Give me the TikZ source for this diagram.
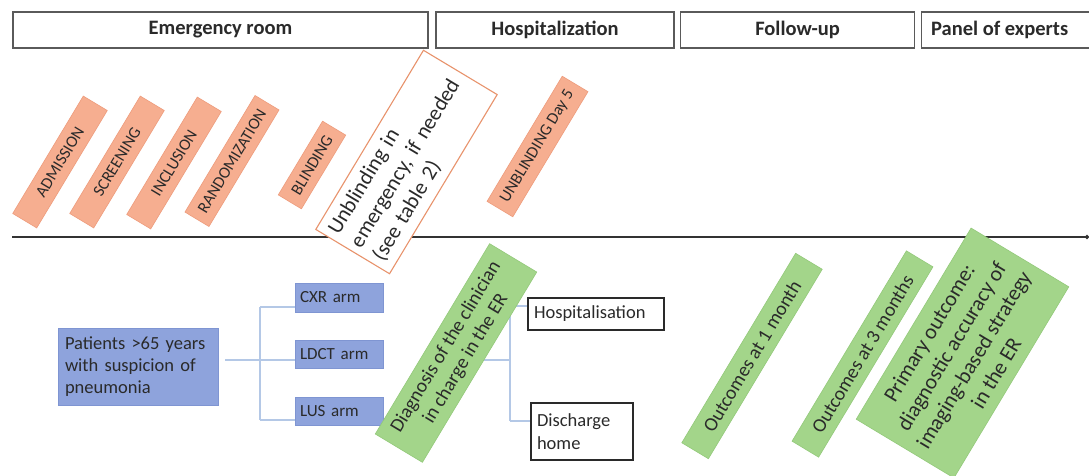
\documentclass[tikz,border=0pt]{standalone}
\usepackage{fontspec}
\setmainfont{Carlito}
\usetikzlibrary{arrows.meta}
\definecolor{txt}{HTML}{2A2A2A}
\definecolor{hdrline}{HTML}{5A5A5A}
\definecolor{orfill}{HTML}{F6AE90}
\definecolor{orline}{HTML}{EE9C7C}
\definecolor{orbord}{HTML}{E8936C}
\definecolor{blfill}{HTML}{8EA3DC}
\definecolor{blline}{HTML}{7F95D2}
\definecolor{grfill}{HTML}{A3D58A}
\definecolor{grline}{HTML}{93C97A}
\definecolor{conn}{HTML}{B4C8E6}
\tikzset{
  hdr/.style={draw=hdrline, line width=1.4pt, fill=white, minimum height=36pt,
    inner sep=0pt, text=txt, font=\fontsize{20.5}{24}\selectfont\bfseries},
  hdrtext/.style={inner sep=0pt, text=txt, font=\fontsize{20.5}{24}\selectfont\bfseries},
  obox/.style={draw=orline, line width=0.6pt, fill=orfill, rotate=59, inner sep=0pt,
    text=txt, font=\fontsize{16.5}{19}\selectfont, minimum height=28pt},
  ubox/.style={draw=orbord, line width=1.1pt, fill=white, rotate=59, inner sep=0pt,
    text=txt, font=\fontsize{21.5}{26}\selectfont, align=left},
  gbox/.style={draw=grline, line width=0.6pt, fill=grfill, rotate=59, inner sep=0pt,
    text=txt, align=center},
  bbox/.style={draw=blline, line width=0.6pt, fill=blfill, inner sep=0pt,
    text=txt, font=\fontsize{17}{21}\selectfont},
  wbox/.style={draw=txt, line width=1.1pt, fill=white, inner sep=0pt,
    text=txt, font=\fontsize{18.5}{22.5}\selectfont},
  cline/.style={draw=conn, line width=1.1pt},
  tline/.style={draw=black!80, line width=1.6pt, -{Circle[length=4pt]}}
}
\begin{document}
\begin{tikzpicture}[x=1pt, y=-1pt]
\useasboundingbox (0,0) rectangle (1089,475);
\fill[white] (0,0) rectangle (1089,475);
% header
\node[hdr, minimum width=415pt] (er) at (220.5,30) {Emergency room};
\node[hdr, minimum width=238pt] (hosp) at (555,30) {Hospitalization};
\node[hdr, minimum width=234pt] (fu) at (797.5,30) {Follow-up};
\begin{scope}
\clip (0,0) rectangle (1089,475);
\node[hdr, minimum width=190pt, anchor=west] (panel) at (921,30) {};
\end{scope}
\node[hdrtext, anchor=west] (paneltxt) at (931,30) {Panel of experts};
% timeline
\coordinate (tl0) at (12,237);
\coordinate (tl1) at (1089,237);
\draw[tline] (tl0) -- (tl1);
% orange steps
\node[obox, minimum width=137pt] (adm) at (60,162) {ADMISSION};
\node[obox, minimum width=137pt] (scr) at (117,162) {SCREENING};
\node[obox, minimum width=137pt] (inc) at (174,163) {INCLUSION};
\node[obox, minimum width=136pt] (rand) at (232,161) {RANDOMIZATION};
\node[obox, minimum width=86pt, minimum height=27pt] (blind) at (312,165) {BLINDING};
\node[ubox, minimum width=209pt, minimum height=86pt, text width=196pt] (unbl) at (406.5,162)
  {Unblinding in\\emergency, if needed\\(see table 2)};
\node[obox, minimum width=146pt, minimum height=30pt] (unb5) at (537.5,146.5) {UNBLINDING Day 5};
% blue
\node[bbox, minimum width=160pt, minimum height=77pt, text width=146pt, align=left,
  font=\fontsize{18.5}{22.3}\selectfont] (pat) at (138,366.5)
  {Patients >65 years\\with suspicion of\\pneumonia};
\node[bbox, minimum width=88pt, minimum height=29pt, text width=78pt, align=left] (cxr) at (339,297.5) {CXR arm};
\node[bbox, minimum width=88pt, minimum height=28pt, text width=78pt, align=left] (ldct) at (339,354) {LDCT arm};
\node[bbox, minimum width=88pt, minimum height=28pt, text width=78pt, align=left] (lus) at (339,411) {LUS arm};
% connectors (arms)
\coordinate (pa) at (225,360);
\coordinate (ja) at (260,360);
\coordinate (jc) at (260,307);
\coordinate (jl) at (260,420);
\draw[cline] (pa) -- (ja);
\draw[cline] (jc) -- (jl);
\draw[cline] (jc) -- (cxr.west |- jc);
\draw[cline] (ja) -- (ldct.west |- ja);
\draw[cline] (jl) -- (lus.west |- jl);
% outcome boxes
\node[wbox, minimum width=136pt, minimum height=32pt, text width=124pt, align=left] (hospit) at (596,314) {Hospitalisation};
\node[wbox, minimum width=102pt, minimum height=57pt, text width=90pt, align=left] (dis) at (582,431.5) {Discharge\\home};
\coordinate (dd) at (477,360);
\coordinate (dj) at (510,360);
\coordinate (dh) at (510,306);
\coordinate (dk) at (510,421);
\draw[cline] (dd) -- (dj);
\draw[cline] (dh) -- (dk);
\draw[cline] (dh) -- (hospit.west |- dh);
\draw[cline] (dk) -- (dis.west |- dk);
% green
\node[gbox, minimum width=222pt, minimum height=55pt, font=\fontsize{19.5}{23}\selectfont] (diag) at (456,353)
  {Diagnosis of the clinician\\in charge in the ER};
\node[gbox, minimum width=221pt, minimum height=31pt, font=\fontsize{19.5}{22}\selectfont] (o1) at (752,356) {Outcomes at 1 month};
\node[gbox, minimum width=222pt, minimum height=31pt, font=\fontsize{19.5}{22}\selectfont] (o3) at (862.5,354) {Outcomes at 3 months};
\node[gbox, minimum width=223pt, minimum height=114pt, font=\fontsize{21.5}{26}\selectfont] (prim) at (962.5,353)
  {Primary outcome:\\diagnostic accuracy of\\imaging-based strategy\\in the ER};
\end{tikzpicture}
\end{document}
